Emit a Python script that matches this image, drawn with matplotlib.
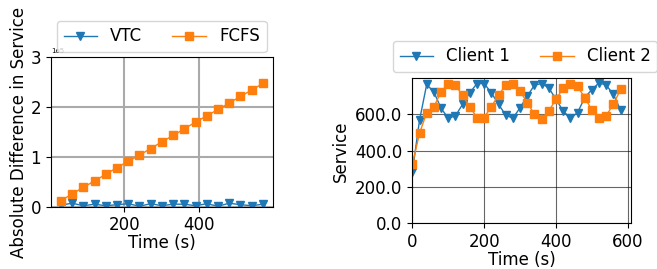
import numpy as np
import matplotlib
matplotlib.use("Agg")
import matplotlib.pyplot as plt
from matplotlib.ticker import FormatStrFormatter

# left panel: absolute difference in service between the two clients
diff_time = [30, 60, 90, 120, 150, 180, 210, 240, 270, 300,
             330, 360, 390, 420, 450, 480, 510, 540, 570]
vtc_diff = [3000, 7000, 2000, 5000, 2000, 4000, 6000, 1000, 6000, 2000,
            5000, 5000, 2000, 6000, 1000, 7000, 4000, 2000, 5000]
fcfs_diff = [12100, 25500, 38900, 51700, 65100, 78500, 91300, 103400, 116800, 130200,
             143000, 156400, 169800, 182600, 195300, 208100, 221500, 234200, 247700]

# right panel: service received per client (VTC)
svc_time = list(range(0, 600, 20))
client1 = [282, 567, 764, 722, 633, 578, 591, 655, 718, 769,
           769, 718, 655, 595, 578, 636, 700, 760, 769, 745,
           682, 618, 578, 609, 691, 736, 773, 760, 709, 622]
client2 = [324, 495, 609, 640, 724, 767, 760, 704, 640, 582,
           582, 642, 705, 760, 767, 727, 664, 600, 576, 618,
           682, 745, 769, 753, 691, 624, 578, 593, 655, 738]

fs = 12
fig = plt.figure(figsize=(6.57, 2.69), dpi=100)

ax1 = fig.add_axes([0.0772, 0.2316, 0.3384, 0.5554])
ax1.plot(diff_time, vtc_diff, marker='v', lw=1, ms=6, color='tab:blue', label='VTC')
ax1.plot(diff_time, fcfs_diff, marker='s', lw=1, ms=6, color='tab:orange', label='FCFS')
ax1.set_ylim(0, 3e5)
ax1.set_xticks([200, 400])
ax1.set_yticks([0, 1e5, 2e5, 3e5])
ax1.ticklabel_format(axis='y', style='sci', scilimits=(0, 0))
ax1.grid(True, color='#aaaaaa', lw=1.5)
ax1.tick_params(labelsize=fs)
ax1.yaxis.get_offset_text().set_fontsize(5)
ax1.set_xlabel('Time (s)', fontsize=fs, labelpad=0)
ax1.set_ylabel('Absolute Difference in Service', fontsize=fs, labelpad=2)
ax1.legend(ncol=2, fontsize=fs, loc='lower left',
           bbox_to_anchor=(57 / 657, 1 - 52 / 269), bbox_transform=fig.transFigure,
           borderaxespad=0, columnspacing=1.8)

ax2 = fig.add_axes([0.6276, 0.1698, 0.3329, 0.5390])
ax2.plot(svc_time, client1, marker='v', lw=1, ms=6, color='tab:blue', label='Client 1')
ax2.plot(svc_time, client2, marker='s', lw=1, ms=6, color='tab:orange', label='Client 2')
ax2.set_xlim(left=0)
ax2.set_ylim(bottom=0)
ax2.set_xticks([0, 200, 400, 600])
ax2.set_yticks([0, 200, 400, 600])
ax2.yaxis.set_major_formatter(FormatStrFormatter('%.1f'))
ax2.grid(True, color='k', lw=0.8, alpha=0.6)
ax2.tick_params(labelsize=fs)
ax2.set_xlabel('Time (s)', fontsize=fs, labelpad=0)
ax2.set_ylabel('Service', fontsize=fs)
ax2.legend(ncol=2, fontsize=fs, loc='lower left',
           bbox_to_anchor=(393 / 657, 1 - 72 / 269), bbox_transform=fig.transFigure,
           borderaxespad=0, columnspacing=1.8)

fig.savefig('out.png', dpi=100)
